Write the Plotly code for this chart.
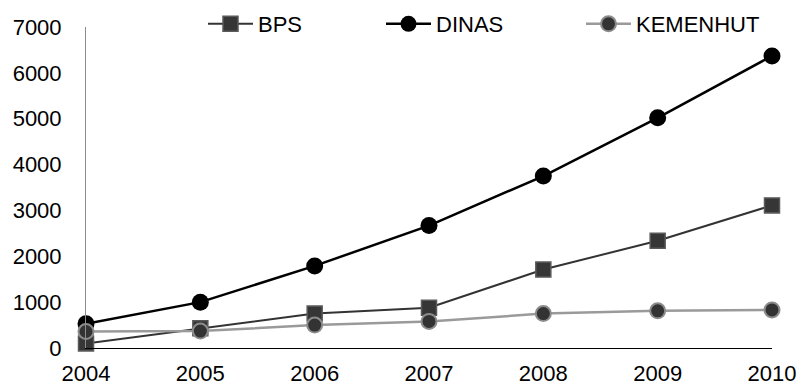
import plotly.graph_objects as go

# Yearly series
years = [2004, 2005, 2006, 2007, 2008, 2009, 2010]
bps = [100, 430, 750, 880, 1710, 2340, 3110]
dinas = [530, 1000, 1790, 2670, 3750, 5020, 6370]
kemenhut = [360, 370, 500, 580, 750, 810, 830]
y_ticks = [0, 1000, 2000, 3000, 4000, 5000, 6000, 7000]

W, H = 803, 387
FONT = "Liberation Sans, Arial, sans-serif"
FS = 22

fig = go.Figure()
fig.add_trace(go.Scatter(
    x=years, y=bps, name="BPS", mode="lines+markers", legend="legend",
    line=dict(color="#333333", width=2),
    marker=dict(symbol="square", size=15, color="#363636",
                line=dict(color="#5a5a5a", width=1.5)),
    cliponaxis=False,
))
fig.add_trace(go.Scatter(
    x=years, y=dinas, name="DINAS", mode="lines+markers", legend="legend2",
    line=dict(color="#000000", width=2.5),
    marker=dict(symbol="circle", size=17, color="#000000"),
    cliponaxis=False,
))
fig.add_trace(go.Scatter(
    x=years, y=kemenhut, name="KEMENHUT", mode="lines+markers", legend="legend3",
    line=dict(color="#9a9a9a", width=2.5),
    marker=dict(symbol="circle", size=15, color="#333333",
                line=dict(color="#8c8c8c", width=2)),
    cliponaxis=False,
))

legend_style = dict(
    orientation="h", xref="container", yref="container",
    y=1 - 24 / H, yanchor="middle", xanchor="left",
    font=dict(family=FONT, size=FS, color="#000000"),
    bgcolor="rgba(0,0,0,0)", borderwidth=0, itemwidth=45,
)
fig.update_layout(
    width=W, height=H,
    margin=dict(l=86, r=31, t=27, b=39, pad=0, autoexpand=False),
    paper_bgcolor="white", plot_bgcolor="white",
    font=dict(family=FONT, size=FS, color="#000000"),
    showlegend=True,
    legend=dict(legend_style, x=203 / W),
    legend2=dict(legend_style, x=381 / W),
    legend3=dict(legend_style, x=581 / W),
    xaxis=dict(
        range=[2004, 2010], tickvals=years, ticktext=[str(y) for y in years],
        showgrid=False, zeroline=False,
        showline=True, linecolor="#000000", linewidth=1,
        ticks="", ticklabelstandoff=6,
        tickfont=dict(family=FONT, size=FS, color="#000000"),
    ),
    yaxis=dict(
        range=[0, 7000], tickvals=y_ticks, ticktext=[str(v) for v in y_ticks],
        showgrid=False, zeroline=False,
        showline=True, linecolor="#8c8c8c", linewidth=1,
        ticks="", ticklabelstandoff=19,
        tickfont=dict(family=FONT, size=FS, color="#000000"),
    ),
)

fig.write_html("out.html")
